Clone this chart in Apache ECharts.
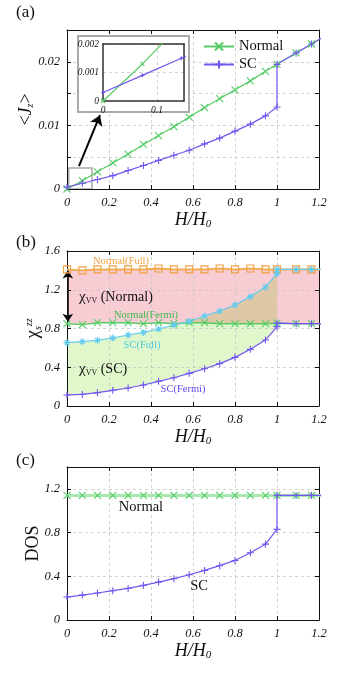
<!DOCTYPE html>
<html>
<head>
<meta charset="utf-8">
<script src="https://cdn.jsdelivr.net/npm/echarts@6/dist/echarts.min.js"></script>
<style>
  html, body { margin: 0; padding: 0; background: #fff; }
  #main { width: 349px; height: 676px; }
</style>
</head>
<body>
<div id="main"></div>
<script>
// H/H0 sample points (the last one lies past the axis end, only its segment shows)
var hx = [0, 0.073, 0.145, 0.218, 0.291, 0.364, 0.436, 0.509, 0.582, 0.655, 0.727, 0.8, 0.873, 0.945, 1.0, 1.091, 1.164, 1.236];

// (a) <Jz>
var jzNormal = [0, 0.0013, 0.0027, 0.0041, 0.0055, 0.0070, 0.0084, 0.0098, 0.0113, 0.0128, 0.0142, 0.0156, 0.0170, 0.0185, 0.0196, 0.0214, 0.0228, 0.0242];
var jzSC = [0.0003, 0.0009, 0.0015, 0.0021, 0.0029, 0.0037, 0.0045, 0.0053, 0.0061, 0.0071, 0.0080, 0.0091, 0.0102, 0.0115, 0.0129];

// (b) chi_s^zz
var chiNormalFull = [1.41, 1.40, 1.41, 1.41, 1.41, 1.41, 1.42, 1.41, 1.41, 1.41, 1.42, 1.41, 1.42, 1.41, 1.41, 1.41, 1.41, 1.41];
var chiNormalFermi = [0.85, 0.84, 0.86, 0.86, 0.86, 0.85, 0.86, 0.85, 0.86, 0.86, 0.85, 0.85, 0.85, 0.85, 0.855, 0.85, 0.85, 0.85];
var chiSCFull = [0.654, 0.664, 0.678, 0.702, 0.733, 0.760, 0.795, 0.836, 0.874, 0.929, 0.980, 1.043, 1.129, 1.228, 1.366];
var chiSCFermi = [0.114, 0.120, 0.138, 0.162, 0.186, 0.217, 0.255, 0.292, 0.337, 0.385, 0.437, 0.502, 0.585, 0.681, 0.819];

// (c) DOS
var dosNormal = [1.14, 1.14, 1.14, 1.14, 1.14, 1.14, 1.14, 1.14, 1.14, 1.14, 1.14, 1.14, 1.14, 1.14, 1.14, 1.14, 1.14, 1.14];
var dosSC = [0.21, 0.228, 0.247, 0.268, 0.289, 0.317, 0.347, 0.378, 0.414, 0.454, 0.497, 0.545, 0.615, 0.694, 0.829];

var SERIF = '"Liberation Serif", "DejaVu Serif", serif';
var GREEN = '#55cc66', PURPLE = '#7357f0', ORANGE = '#f0a040', CYAN = '#66ccee';
var CROSS = 'path://M0,0L10,10M10,0L0,10';
var PLUS = 'path://M5,0L5,10M0,5L10,5';
var STAR = 'path://M5,0L5,10M0,5L10,5M1.6,1.6L8.4,8.4M8.4,1.6L1.6,8.4';
var SQUARE = 'path://M0,0L10,0L10,10L0,10Z';

function pts(ys) {
  return ys.map(function (y, i) { return [hx[i], y]; });
}
// SC curve up to H0, then jumps onto the normal-state values
function joined(sc, normal) {
  return pts(sc).concat(normal.slice(14).map(function (y, i) { return [hx[14 + i], y]; }));
}

function line(name, data, color, symbol, ax, extra) {
  var s = {
    name: name, type: 'line', data: data,
    xAxisIndex: ax, yAxisIndex: ax,
    symbol: symbol, symbolSize: 7, showAllSymbol: true,
    lineStyle: { color: color, width: 1.2 },
    itemStyle: { color: color, borderColor: color, borderWidth: 1.1 },
    z: 7, animation: false
  };
  for (var k in extra) s[k] = extra[k];
  return s;
}
function fill(data, color, z) {
  return {
    type: 'line', data: data, xAxisIndex: 2, yAxisIndex: 2,
    symbol: 'none', showSymbol: false, silent: true,
    lineStyle: { width: 0, opacity: 0 },
    areaStyle: { color: color, opacity: 1, origin: 'start' },
    z: z, animation: false
  };
}

var gridLine = { show: true, lineStyle: { color: '#c6c6c6', type: [3, 3], width: 0.8 } };
var tickLabel = { fontFamily: SERIF, fontStyle: 'italic', fontSize: 12.5, color: '#111' };

function xAx(grid, pos, main) {
  return {
    type: 'value', gridIndex: grid, position: pos, min: 0, max: 1.2, interval: 0.2, z: 6,
    axisLine: { show: true, onZero: false, lineStyle: { color: '#111', width: 1 } },
    axisTick: { show: true, inside: true, length: 4, lineStyle: { color: '#111' } },
    axisLabel: Object.assign({ show: main, margin: 7 }, tickLabel),
    splitLine: main ? gridLine : { show: false },
    name: main ? '{i|H/H}{s|0}' : '', nameLocation: 'middle', nameGap: 22,
    nameTextStyle: {
      rich: {
        i: { fontFamily: SERIF, fontStyle: 'italic', fontSize: 18, color: '#111' },
        s: { fontFamily: SERIF, fontStyle: 'italic', fontSize: 11, color: '#111', verticalAlign: 'bottom', padding: [8, 0, 0, 0] }
      }
    }
  };
}
function yAx(grid, pos, main, max, interval, fmt, showMax, name, gap, rich) {
  return {
    type: 'value', gridIndex: grid, position: pos, min: 0, max: max, interval: interval, z: 6,
    axisLine: { show: true, onZero: false, lineStyle: { color: '#111', width: 1 } },
    axisTick: { show: true, inside: true, length: 4, lineStyle: { color: '#111' } },
    axisLabel: Object.assign({ show: main, margin: 7, formatter: fmt, showMaxLabel: showMax }, tickLabel),
    splitLine: main ? gridLine : { show: false },
    name: main ? name : '', nameLocation: 'middle', nameRotate: 90, nameGap: gap,
    nameMoveOverlap: false,
    nameTextStyle: { fontFamily: SERIF, fontSize: 18, color: '#111', rich: rich }
  };
}

var jzFmt = function (v) {
  return Math.abs(v * 100 - Math.round(v * 100)) < 1e-6 ? String(+v.toFixed(2)) : '';
};
var plainFmt = function (v) { return String(+v.toFixed(2)); };

var insetAx = {
  z: 9,
  axisLine: { show: true, onZero: false, lineStyle: { color: '#333', width: 1.5 } },
  axisTick: { show: false }
};

var chart = echarts.init(document.getElementById('main'));
chart.setOption({
  animation: false,
  backgroundColor: '#fff',
  grid: [
    { left: 67, top: 30, width: 252, height: 159 },
    { left: 67, top: 251, width: 252, height: 155 },
    { left: 67, top: 467, width: 252, height: 153 },
    { left: 103, top: 44, width: 81, height: 57 }
  ],
  xAxis: [
    xAx(0, 'bottom', true), xAx(0, 'top', false),
    xAx(1, 'bottom', true), xAx(1, 'top', false),
    xAx(2, 'bottom', true), xAx(2, 'top', false),
    Object.assign({}, insetAx, {
      type: 'value', gridIndex: 3, position: 'bottom', min: 0, max: 0.15, interval: 0.1,
      axisLabel: { fontFamily: SERIF, fontStyle: 'italic', fontSize: 9.5, color: '#111', margin: 4, showMaxLabel: false },
      splitLine: { show: true, lineStyle: { color: '#c6c6c6', type: [3, 3], width: 0.8 } }
    }),
    Object.assign({}, insetAx, {
      type: 'value', gridIndex: 3, position: 'top', min: 0, max: 0.15, interval: 0.1,
      axisLabel: { show: false }, splitLine: { show: false }
    })
  ],
  yAxis: [
    yAx(0, 'left', true, 0.025, 0.005, jzFmt, false, '<{j|J}{s|z}>', 32, {
      j: { fontFamily: SERIF, fontStyle: 'italic', fontSize: 18, color: '#111' },
      s: { fontFamily: SERIF, fontStyle: 'italic', fontSize: 10, color: '#111', verticalAlign: 'bottom', padding: [8, 0, 0, 0] }
    }),
    yAx(0, 'right', false, 0.025, 0.005),
    yAx(1, 'left', true, 1.6, 0.4, plainFmt, true, '{c|χ}{s|s}{z|zz}', 24, {
      c: { fontFamily: SERIF, fontSize: 19, color: '#111' },
      s: { fontFamily: SERIF, fontStyle: 'italic', fontSize: 10, color: '#111', verticalAlign: 'bottom', padding: [8, 0, 0, 0] },
      z: { fontFamily: SERIF, fontStyle: 'italic', fontSize: 10, color: '#111', verticalAlign: 'top', padding: [0, 0, 8, 0] }
    }),
    yAx(1, 'right', false, 1.6, 0.4),
    yAx(2, 'left', true, 1.4, 0.4, plainFmt, false, 'DOS', 25),
    yAx(2, 'right', false, 1.4, 0.4),
    Object.assign({}, insetAx, {
      type: 'value', gridIndex: 3, position: 'left', min: 0, max: 0.002, interval: 0.001,
      axisLabel: { fontFamily: SERIF, fontStyle: 'italic', fontSize: 9.5, color: '#111', margin: 4 },
      splitLine: { show: true, lineStyle: { color: '#c6c6c6', type: [3, 3], width: 0.8 } }
    }),
    Object.assign({}, insetAx, {
      type: 'value', gridIndex: 3, position: 'right', min: 0, max: 0.002, interval: 0.001,
      axisLabel: { show: false }, splitLine: { show: false }
    })
  ],
  legend: {
    data: ['Normal', 'SC'], orient: 'vertical', left: 198, top: 34,
    itemWidth: 30, itemHeight: 10, itemGap: 3, z: 8,
    textStyle: { fontFamily: SERIF, fontSize: 14.5, color: '#111' }
  },
  series: [
    // (a)
    line('Normal', pts(jzNormal), GREEN, CROSS, 0, {
      markArea: {
        silent: true,
        itemStyle: { color: 'rgba(0,0,0,0)', borderColor: '#aaa', borderWidth: 1.5 },
        data: [[{ coord: [0.008, 0] }, { coord: [0.119, 0.0033] }]]
      },
      markLine: {
        silent: true, symbol: ['none', 'arrow'], symbolSize: 10,
        label: { show: false },
        lineStyle: { color: '#000', width: 2, type: 'solid' },
        data: [[{ coord: [0.057, 0.0036] }, { coord: [0.157, 0.0116] }]]
      }
    }),
    line('SC', joined(jzSC, jzNormal), PURPLE, PLUS, 0),
    // inset
    line('', pts(jzNormal), GREEN, CROSS, 6, { symbolSize: 4, z: 10 }),
    line('', pts(jzSC), PURPLE, PLUS, 6, { symbolSize: 4, z: 10 }),

    // (b) shaded regions, layered bottom to top
    fill(pts(chiNormalFull), '#f8ccd3', 1),
    fill(pts(chiNormalFermi), '#ffffff', 2),
    fill(pts(chiSCFull), '#dfc8a6', 3),
    fill(pts(chiSCFull.map(function (v, i) { return Math.min(v, chiNormalFermi[i]); })), '#e0f7cb', 4),
    fill(pts(chiSCFermi), '#ffffff', 5),
    line('Normal(Full)', pts(chiNormalFull), ORANGE, SQUARE, 2, {
      lineStyle: { color: '#f2ad55', width: 2 },
      itemStyle: { color: 'rgba(0,0,0,0)', borderColor: ORANGE, borderWidth: 1.1 }
    }),
    line('Normal(Fermi)', pts(chiNormalFermi), GREEN, CROSS, 2, {
      lineStyle: { color: GREEN, width: 1.5 },
      markLine: {
        silent: true, symbol: ['arrow', 'arrow'], symbolSize: 8,
        label: { show: false },
        lineStyle: { color: '#000', width: 1.5, type: 'solid' },
        data: [[{ coord: [0.004, 1.40] }, { coord: [0.004, 0.87] }]]
      }
    }),
    line('SC(Full)', joined(chiSCFull, chiNormalFull), CYAN, STAR, 2),
    line('SC(Fermi)', joined(chiSCFermi, chiNormalFermi), PURPLE, PLUS, 2),

    // (c)
    line('DOS Normal', pts(dosNormal), GREEN, CROSS, 4, {
      lineStyle: { color: '#a6e8ae', width: 3 }
    }),
    line('DOS SC', joined(dosSC, dosNormal), PURPLE, PLUS, 4)
  ],
  graphic: [
    { type: 'rect', z: 8, shape: { x: 78, y: 36, width: 111, height: 76 },
      style: { fill: '#fff', stroke: '#aaa', lineWidth: 2 } },
    { type: 'text', x: 16, y: 4, z: 8, style: { text: '(a)', fontFamily: SERIF, fontSize: 17, fill: '#111' } },
    { type: 'text', x: 16, y: 234, z: 8, style: { text: '(b)', fontFamily: SERIF, fontSize: 17, fill: '#111' } },
    { type: 'text', x: 16, y: 452, z: 8, style: { text: '(c)', fontFamily: SERIF, fontSize: 17, fill: '#111' } },
    { type: 'text', x: 121, y: 261, z: 8, style: { text: 'Normal(Full)', fontFamily: SERIF, fontSize: 10.5, fill: ORANGE, align: 'center', verticalAlign: 'middle' } },
    { type: 'text', x: 146, y: 315, z: 8, style: { text: 'Normal(Fermi)', fontFamily: SERIF, fontSize: 10.5, fill: '#3dbb4a', align: 'center', verticalAlign: 'middle' } },
    { type: 'text', x: 142, y: 345, z: 8, style: { text: 'SC(Full)', fontFamily: SERIF, fontSize: 10.5, fill: '#4cc8dc', align: 'center', verticalAlign: 'middle' } },
    { type: 'text', x: 183, y: 389, z: 8, style: { text: 'SC(Fermi)', fontFamily: SERIF, fontSize: 10.5, fill: '#6644ee', align: 'center', verticalAlign: 'middle' } },
    { type: 'text', x: 79, y: 297, z: 8, style: {
      text: '{c|χ}{v|VV}{n| (Normal)}', verticalAlign: 'middle',
      rich: {
        c: { fontFamily: SERIF, fontSize: 15, fill: '#111' },
        v: { fontFamily: SERIF, fontSize: 8, fill: '#111', verticalAlign: 'bottom', padding: [6, 0, 0, 0] },
        n: { fontFamily: SERIF, fontSize: 14, fill: '#111' }
      } } },
    { type: 'text', x: 79, y: 369, z: 8, style: {
      text: '{c|χ}{v|VV}{n| (SC)}', verticalAlign: 'middle',
      rich: {
        c: { fontFamily: SERIF, fontSize: 15, fill: '#111' },
        v: { fontFamily: SERIF, fontSize: 8, fill: '#111', verticalAlign: 'bottom', padding: [6, 0, 0, 0] },
        n: { fontFamily: SERIF, fontSize: 14, fill: '#111' }
      } } },
    { type: 'text', x: 141, y: 507, z: 8, style: { text: 'Normal', fontFamily: SERIF, fontSize: 14.5, fill: '#111', align: 'center', verticalAlign: 'middle' } },
    { type: 'text', x: 199, y: 586, z: 8, style: { text: 'SC', fontFamily: SERIF, fontSize: 14.5, fill: '#111', align: 'center', verticalAlign: 'middle' } }
  ]
});
</script>
</body>
</html>
